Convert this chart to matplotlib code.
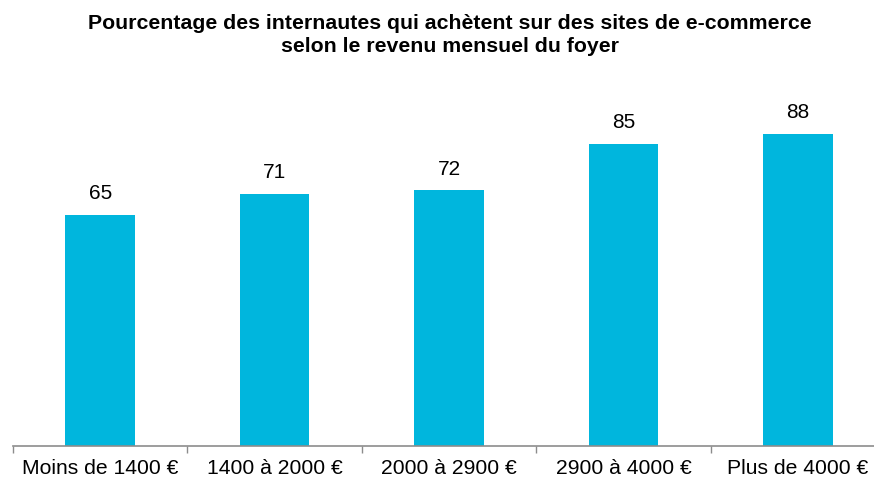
import matplotlib
matplotlib.use("Agg")
import matplotlib.pyplot as plt

plt.rcParams['font.family'] = ['Liberation Sans', 'DejaVu Sans']

categories = ["Moins de 1400 €", "1400 à 2000 €", "2000 à 2900 €", "2900 à 4000 €", "Plus de 4000 €"]
values = [65, 71, 72, 85, 88]
title = "Pourcentage des internautes qui achètent sur des sites de e-commerce\nselon le revenu mensuel du foyer"

fig = plt.figure(figsize=(8.74, 4.81), dpi=100)
W, H = 874, 481
ax = fig.add_axes([13 / W, 34 / H, 872 / W, 355 / H])

x = range(len(categories))
ax.bar(x, values, width=0.4, color="#00B6DD")
for i, v in enumerate(values):
    ax.text(i, v + 3.6, str(v), ha="center", va="bottom", fontsize=15)

ax.set_xlim(-0.5, len(categories) - 0.5)
ax.set_ylim(0, 100)
ax.set_yticks([])
ax.set_xticks(x)
ax.set_xticklabels(categories, fontsize=15.2)
ax.tick_params(axis="x", length=0, pad=9)
ax.set_xticks([i - 0.5 for i in range(len(categories) + 1)], minor=True)
ax.tick_params(axis="x", which="minor", length=5, color="#8c8c8c", width=1)
for s in ["top", "right", "left"]:
    ax.spines[s].set_visible(False)
ax.spines["bottom"].set_color("#8c8c8c")
ax.spines["bottom"].set_linewidth(1.2)

fig.text(450 / W, 1 - 35 / H, title, ha="center", va="center", fontsize=15.3, fontweight="bold", linespacing=1.28)

fig.savefig("out.png", dpi=100)
